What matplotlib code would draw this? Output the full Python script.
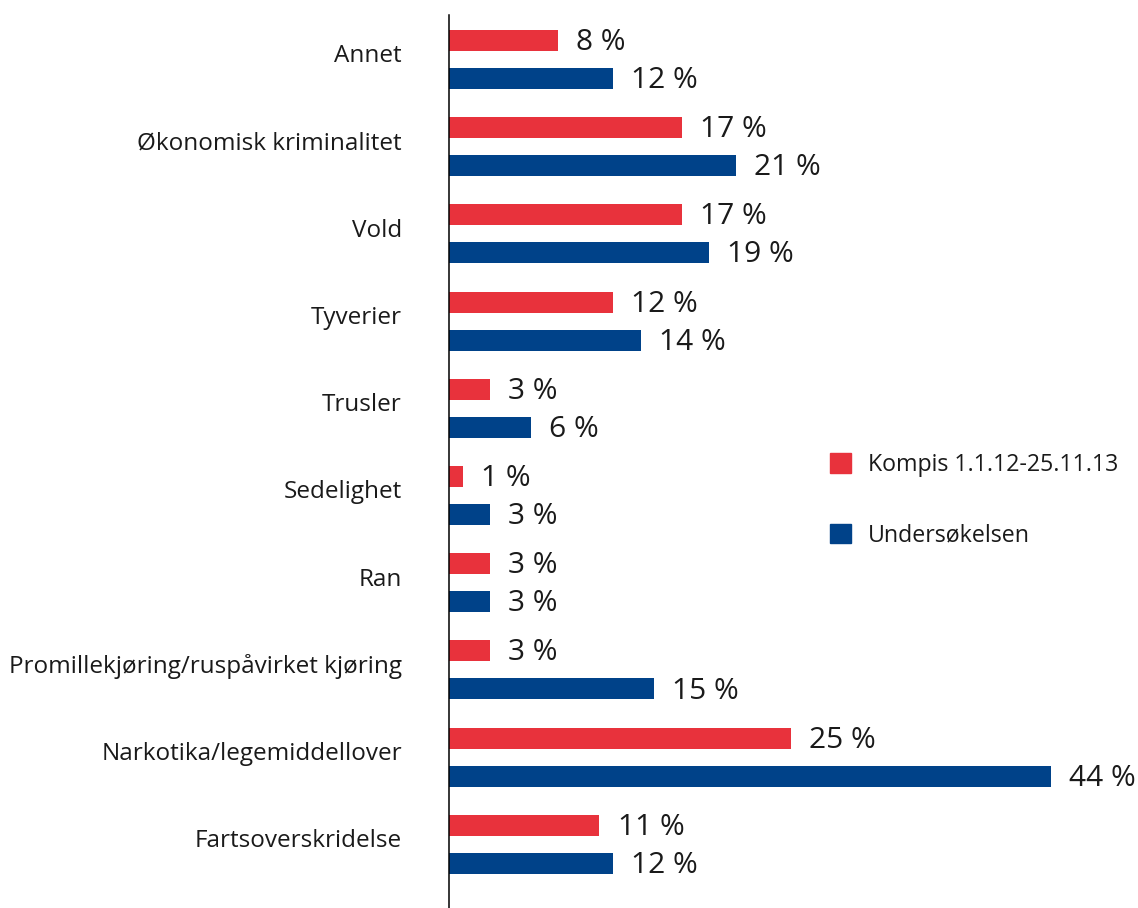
import matplotlib
matplotlib.use("Agg")
import matplotlib.pyplot as plt
from matplotlib.patches import Patch
import numpy as np

plt.rcParams['font.family'] = ['Open Sans', 'DejaVu Sans']

categories = ["Annet", "Økonomisk kriminalitet", "Vold", "Tyverier", "Trusler",
              "Sedelighet", "Ran", "Promillekjøring/ruspåvirket kjøring",
              "Narkotika/legemiddellover", "Fartsoverskridelse"]
kompis = [8, 17, 17, 12, 3, 1, 3, 3, 25, 11]
undersokelsen = [12, 21, 19, 14, 6, 3, 3, 15, 44, 12]
series_names = ["Kompis 1.1.12-25.11.13", "Undersøkelsen"]

red = "#E8323C"
blue = "#004289"
txt = "#1a1a1a"

fig = plt.figure(figsize=(11.38, 9.08), dpi=100)
ax = fig.add_axes([449 / 1138, 0, 1 - 449 / 1138, 1 - 15 / 908])

y = np.arange(len(categories))
off = 0.218
h = 0.24
ax.barh(y - off, kompis, height=h, color=red)
ax.barh(y + off, undersokelsen, height=h, color=blue)

for yi, v in zip(y - off, kompis):
    ax.annotate(f"{v} %", (v, yi), xytext=(13, -1.5), textcoords="offset points",
                va="center", ha="left", fontsize=21.5, color=txt)
for yi, v in zip(y + off, undersokelsen):
    ax.annotate(f"{v} %", (v, yi), xytext=(13, -1.5), textcoords="offset points",
                va="center", ha="left", fontsize=21.5, color=txt)

ax.set_xlim(0, (1138 - 449) / 13.68)
ax.set_ylim(9.73, -0.51)
ax.set_yticks(y - 0.07)
ax.set_yticklabels(categories, fontsize=17.5, color=txt)
ax.tick_params(axis='y', length=0, pad=34)
ax.set_xticks([])
for s in ["top", "right", "bottom"]:
    ax.spines[s].set_visible(False)
ax.spines["left"].set_linewidth(1.1)
ax.spines["left"].set_color("black")

handles = [Patch(color=red, label=series_names[0]), Patch(color=blue, label=series_names[1])]
fig.legend(handles=handles, loc="upper left", bbox_to_anchor=(830 / 1138, 1 - 453 / 908),
           frameon=False, fontsize=16.7, handlelength=0.9, handleheight=0.9,
           handletextpad=0.75, labelspacing=2.0, borderpad=0, borderaxespad=0,
           labelcolor=txt)

plt.savefig("out.png", dpi=100)
